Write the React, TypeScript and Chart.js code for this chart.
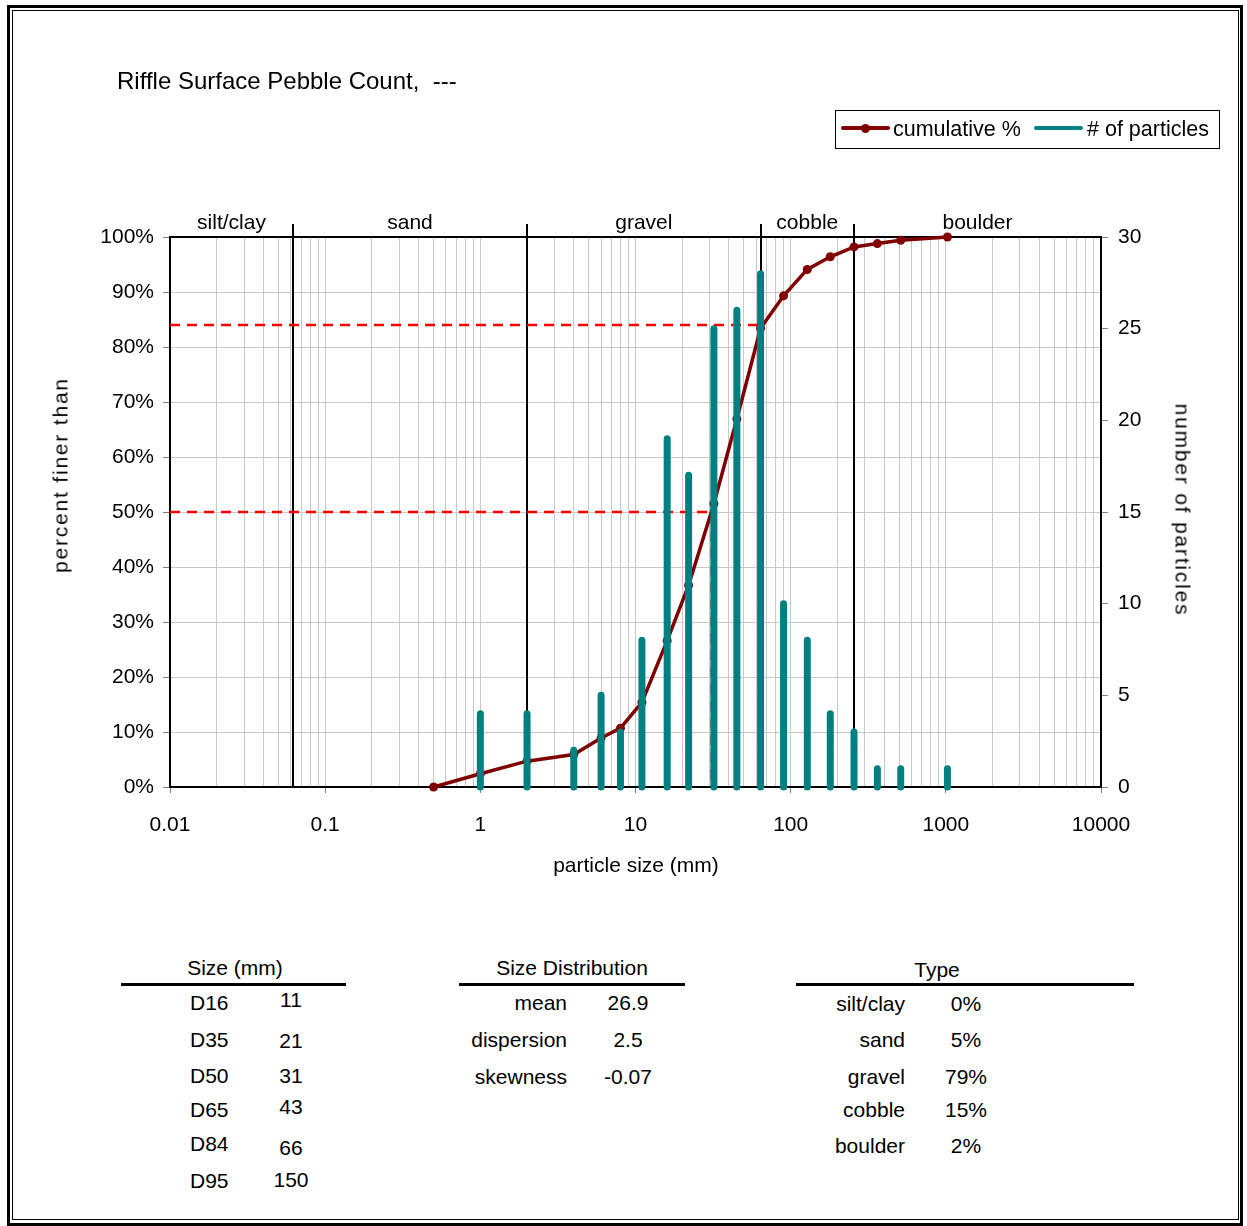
import React, { useEffect, useRef } from "react";
import { Chart, registerables } from "chart.js";

Chart.register(...registerables);

const FONT = '"Liberation Sans", Arial, sans-serif';

// particle size classes (mm) and counts per class
const sizes = [1, 2, 4, 6, 8, 11, 16, 22, 32, 45, 64, 90, 128, 180, 256, 362, 512, 1024];
const particleCounts = [4, 4, 2, 5, 3, 8, 19, 17, 25, 26, 28, 10, 8, 4, 3, 1, 1, 1];

// cumulative percent finer curve
const cumulativeSizes = [0.5, 1, 2, 4, 6, 8, 11, 16, 22, 32, 45, 64, 90, 128, 180, 256, 362, 512, 1024];
const cumulativePercent = [0, 2.4, 4.7, 5.9, 8.9, 10.7, 15.4, 26.6, 36.7, 51.5, 66.9, 83.4, 89.3, 94.1, 96.4, 98.2, 98.8, 99.4, 100];

// D50 / D84 guide lines: [size, percent]
const d50 = [31, 50];
const d84 = [66, 84];

// class boundaries and names
const classBounds = [0.062, 2, 64, 256];
const classNames = ["silt/clay", "sand", "gravel", "cobble", "boulder"];

// axis ranges
const xMin = 0.01;
const xMax = 10000;
const leftMax = 100;
const leftStep = 10;
const rightMax = 30;
const rightStep = 5;

// tables
const sizeLabels = ["D16", "D35", "D50", "D65", "D84", "D95"];
const sizeValues = ["11", "21", "31", "43", "66", "150"];
const distLabels = ["mean", "dispersion", "skewness"];
const distValues = ["26.9", "2.5", "-0.07"];
const typeLabels = ["silt/clay", "sand", "gravel", "cobble", "boulder"];
const typeValues = ["0%", "5%", "79%", "15%", "2%"];

const isDecade = (v: number) => Math.abs(Math.log10(v) - Math.round(Math.log10(v))) < 1e-9;

const logGridValues = (() => {
  const out: number[] = [];
  for (let e = -2; e <= 4; e++) {
    for (let m = 1; m <= 9; m++) {
      const v = parseFloat(`${m}e${e}`);
      if (v >= xMin && v <= xMax) out.push(v);
    }
  }
  return out;
})();

// each count drawn as a vertical stick (0 -> count), separated by gaps
const stickData = sizes.flatMap((s, i) => [
  { x: s, y: 0 },
  { x: s, y: particleCounts[i] },
  { x: s, y: null },
]);

const framePlugin = {
  id: "frameAndClasses",
  beforeDatasetsDraw(chart: any) {
    const { ctx, chartArea: a, scales } = chart;
    const x = scales.x;
    ctx.save();
    ctx.strokeStyle = "#000";
    ctx.lineWidth = 2;
    ctx.strokeRect(a.left, a.top, a.right - a.left, a.bottom - a.top);
    classBounds.forEach((v) => {
      const px = Math.round(x.getPixelForValue(v));
      ctx.beginPath();
      ctx.moveTo(px, a.top - 13);
      ctx.lineTo(px, a.bottom);
      ctx.stroke();
    });
    const edges = [x.getPixelForValue(xMin), ...classBounds.map((v) => x.getPixelForValue(v)), x.getPixelForValue(xMax)];
    ctx.fillStyle = "#000";
    ctx.font = `21px ${FONT}`;
    ctx.textAlign = "center";
    ctx.textBaseline = "alphabetic";
    classNames.forEach((n, i) => {
      ctx.fillText(n, (edges[i] + edges[i + 1]) / 2, a.top - 8);
    });
    ctx.restore();
  },
};

const T = ({ x, y, s = 21, a = "left", children, style }: any) => {
  const tx = a === "center" ? "-50%" : a === "right" ? "-100%" : "0";
  return (
    <div
      style={{
        position: "absolute",
        left: x,
        top: y - 0.49 * s,
        fontSize: s,
        lineHeight: `${s}px`,
        whiteSpace: "pre",
        transform: `translateX(${tx})`,
        fontFamily: FONT,
        color: "#000",
        ...style,
      }}
    >
      {children}
    </div>
  );
};

function ChartCanvas() {
  const ref = useRef<HTMLCanvasElement>(null);
  useEffect(() => {
    if (!ref.current) return;
    const tickFont = { family: FONT, size: 21 };
    const chart = new Chart(ref.current, {
      type: "line",
      data: {
        datasets: [
          {
            type: "line",
            label: "# of particles",
            data: stickData,
            borderColor: "#008080",
            backgroundColor: "#008080",
            borderWidth: 7,
            borderCapStyle: "round",
            pointRadius: 0,
            spanGaps: false,
            tension: 0,
            clip: 10,
            yAxisID: "y2",
            order: 1,
          } as any,
          {
            type: "line",
            label: "cumulative %",
            data: cumulativeSizes.map((s, i) => ({ x: s, y: cumulativePercent[i] })),
            borderColor: "#800000",
            backgroundColor: "#800000",
            borderWidth: 3.5,
            pointRadius: 4.5,
            pointBackgroundColor: "#800000",
            pointBorderWidth: 0,
            tension: 0,
            clip: 10,
            yAxisID: "y",
            order: 2,
          } as any,
          {
            type: "line",
            label: "D50",
            data: [
              { x: xMin, y: d50[1] },
              { x: d50[0], y: d50[1] },
              { x: d50[0], y: 0 },
            ],
            borderColor: "#ff0000",
            borderWidth: 2.5,
            borderDash: [10, 7],
            pointRadius: 0,
            yAxisID: "y",
            order: 3,
          } as any,
          {
            type: "line",
            label: "D84",
            data: [
              { x: xMin, y: d84[1] },
              { x: d84[0], y: d84[1] },
              { x: d84[0], y: 0 },
            ],
            borderColor: "#ff0000",
            borderWidth: 2.5,
            borderDash: [10, 7],
            pointRadius: 0,
            yAxisID: "y",
            order: 3,
          } as any,
        ],
      },
      options: {
        responsive: false,
        animation: false,
        devicePixelRatio: 1,
        layout: { padding: { top: 237, left: 0, right: 0, bottom: 0 } },
        plugins: { legend: { display: false }, tooltip: { enabled: false }, title: { display: false } },
        scales: {
          x: {
            type: "logarithmic",
            min: xMin,
            max: xMax,
            offset: false,
            grid: {
              color: "#c8c8c8",
              lineWidth: 1,
              offset: false,
              tickLength: 6,
              tickColor: (c: any) => (c.tick && isDecade(c.tick.value) ? "#808080" : "rgba(0,0,0,0)"),
            },
            border: { color: "#000", width: 2 },
            ticks: {
              autoSkip: false,
              maxRotation: 0,
              minRotation: 0,
              padding: 20,
              color: "#000",
              font: tickFont,
              callback: (v: any) => (isDecade(Number(v)) ? String(Number(v)) : ""),
            },
            afterBuildTicks: (s: any) => {
              s.ticks = logGridValues.map((v) => ({ value: v, major: isDecade(v) }));
            },
            afterFit: (s: any) => {
              s.height = 113;
            },
          } as any,
          y: {
            type: "linear",
            position: "left",
            min: 0,
            max: leftMax,
            grid: { color: "#c8c8c8", lineWidth: 1, tickLength: 7, tickColor: "#808080" },
            border: { color: "#000", width: 2 },
            ticks: {
              stepSize: leftStep,
              padding: 9,
              color: "#000",
              font: tickFont,
              callback: (v: any) => `${v}%`,
            },
            afterFit: (s: any) => {
              s.width = 170;
            },
          } as any,
          y2: {
            type: "linear",
            position: "right",
            min: 0,
            max: rightMax,
            grid: { drawOnChartArea: false, tickLength: 7, tickColor: "#808080" },
            border: { color: "#000", width: 2 },
            ticks: { stepSize: rightStep, padding: 10, color: "#000", font: tickFont },
            afterFit: (s: any) => {
              s.width = 146;
            },
          } as any,
        },
      },
      plugins: [framePlugin],
    });
    return () => chart.destroy();
  }, []);
  return <canvas ref={ref} width={1247} height={900} style={{ position: "absolute", left: 0, top: 0, width: 1247, height: 900 }} />;
}

export default function App() {
  const sizeRowsY = [1002, 1039, 1075, 1109, 1143, 1180];
  const sizeValY = [999, 1040, 1075, 1106, 1147, 1179];
  const distRowsY = [1002, 1039, 1076];
  const typeRowsY = [1003, 1039, 1076, 1109, 1145];
  return (
    <div style={{ position: "absolute", left: 0, top: 0, width: 1247, height: 1226, background: "#fff", overflow: "hidden", fontFamily: FONT }}>
      <div style={{ position: "absolute", left: 7, top: 5, width: 1236, height: 1221, border: "3px solid #000", boxSizing: "border-box" }} />
      <div style={{ position: "absolute", left: 12, top: 10, width: 1227, height: 1210, border: "1px solid #000", boxSizing: "border-box" }} />
      <ChartCanvas />

      <T x={117} y={81} s={24}>{"Riffle Surface Pebble Count,  ---"}</T>

      {/* legend */}
      <div style={{ position: "absolute", left: 835, top: 110, width: 385, height: 39, border: "1px solid #000", boxSizing: "border-box" }} />
      <div style={{ position: "absolute", left: 841, top: 126, width: 49, height: 4, background: "#800000", borderRadius: 2 }} />
      <div style={{ position: "absolute", left: 861, top: 123.5, width: 9, height: 9, background: "#800000", borderRadius: "50%" }} />
      <T x={893} y={130} s={21.5}>cumulative %</T>
      <div style={{ position: "absolute", left: 1034, top: 126, width: 49, height: 4, background: "#008080", borderRadius: 2 }} />
      <T x={1087} y={130} s={21.5}># of particles</T>

      {/* axis titles */}
      <div
        style={{
          position: "absolute",
          left: 60,
          top: 475,
          transform: "translate(-50%, -50%) rotate(-90deg)",
          fontSize: 21,
          letterSpacing: "1.8px",
          whiteSpace: "pre",
          lineHeight: "21px",
        }}
      >
        percent finer than
      </div>
      <div
        style={{
          position: "absolute",
          left: 1183,
          top: 510,
          transform: "translate(-50%, -50%) rotate(90deg)",
          fontSize: 21,
          letterSpacing: "1.8px",
          whiteSpace: "pre",
          lineHeight: "21px",
        }}
      >
        number of particles
      </div>
      <T x={636} y={864} a="center">particle size (mm)</T>

      {/* table 1 */}
      <T x={235} y={967} a="center">Size (mm)</T>
      <div style={{ position: "absolute", left: 121, top: 983, width: 225, height: 3, background: "#000" }} />
      {sizeLabels.map((l, i) => (
        <T key={l} x={190} y={sizeRowsY[i]}>{l}</T>
      ))}
      {sizeValues.map((v, i) => (
        <T key={"sv" + i} x={291} y={sizeValY[i]} a="center">{v}</T>
      ))}

      {/* table 2 */}
      <T x={572} y={967} a="center">Size Distribution</T>
      <div style={{ position: "absolute", left: 459, top: 983, width: 226, height: 3, background: "#000" }} />
      {distLabels.map((l, i) => (
        <T key={l} x={567} y={distRowsY[i]} a="right">{l}</T>
      ))}
      {distValues.map((v, i) => (
        <T key={"dv" + i} x={628} y={distRowsY[i]} a="center">{v}</T>
      ))}

      {/* table 3 */}
      <T x={937} y={969} a="center">Type</T>
      <div style={{ position: "absolute", left: 796, top: 983, width: 338, height: 3, background: "#000" }} />
      {typeLabels.map((l, i) => (
        <T key={l} x={905} y={typeRowsY[i]} a="right">{l}</T>
      ))}
      {typeValues.map((v, i) => (
        <T key={"tv" + i} x={966} y={typeRowsY[i]} a="center">{v}</T>
      ))}
    </div>
  );
}
